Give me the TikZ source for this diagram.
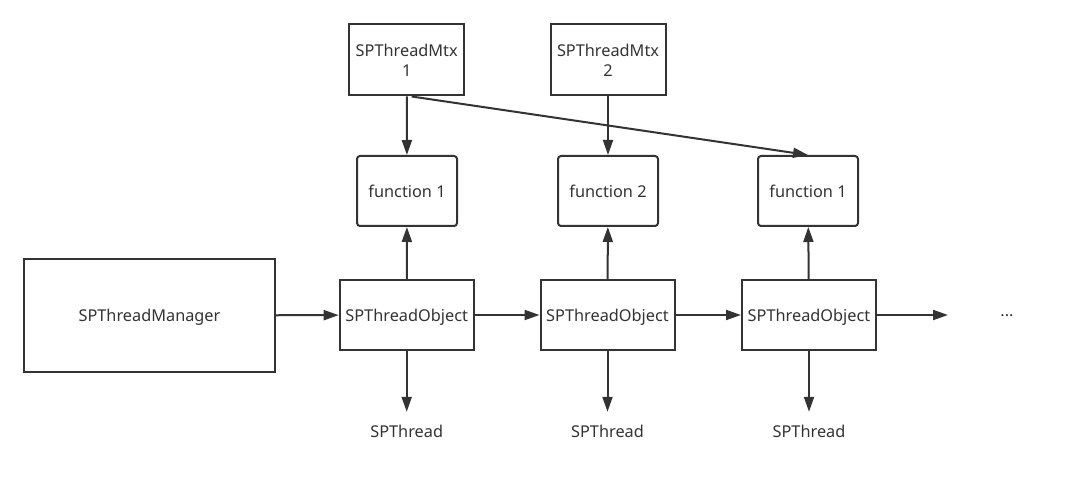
\documentclass[tikz,border=0pt]{standalone}
\usepackage{fontspec}
\setmainfont{Noto Sans}
\usetikzlibrary{arrows.meta}
\definecolor{ink}{HTML}{333333}

\begin{document}
\begin{tikzpicture}[x=1pt,y=-1pt,line width=2pt,ink,
  font=\fontsize{16.3}{20}\selectfont,
  every node/.style={text depth=0pt},
  mgrbox/.style={draw,minimum width=251pt,minimum height=113pt,inner sep=0pt},
  objbox/.style={draw,minimum width=134pt,minimum height=70pt,inner sep=0pt},
  funcbox/.style={draw,rounded corners=3pt,minimum width=100pt,minimum height=70pt,inner sep=0pt},
  mtxbox/.style={draw,minimum width=115pt,minimum height=71pt,inner sep=0pt,align=center},
  thrlbl/.style={inner xsep=2pt,inner ysep=12pt},
  arr/.style={-{Triangle[length=15pt,width=10pt]}}]
  \useasboundingbox (0,0) rectangle (1092,478);

  \node[mgrbox] (mgr) at (149.5,315.5) {SPThreadManager};

  % thread objects with their SPThread labels
  \foreach \i/\x in {1/406.7,2/607.5,3/809}{
    \node[objbox] (obj\i) at (\x,315) {SPThreadObject};
    \node[thrlbl] (thr\i) at (\x,431) {SPThread};
    \draw[arr] (obj\i) -- (thr\i);}

  \node[funcbox] (fn1) at (407,191) {function 1};
  \node[funcbox] (fn2) at (608,191) {function 2};
  \node[funcbox] (fn3) at (808,191) {function 1};

  \node[mtxbox] (mtx1) at (406.7,60) {SPThreadMtx\\1};
  \node[mtxbox] (mtx2) at (608,60) {SPThreadMtx\\2};

  \node (more) at (1007,316) {...};
  \coordinate (tail) at (948,315);

  \foreach \i in {1,2,3}
    \draw[arr] (obj\i) -- (fn\i);
  \draw[arr] (mgr) -- (obj1);
  \draw[arr] (obj1) -- (obj2);
  \draw[arr] (obj2) -- (obj3);
  \draw[arr] (obj3) -- (tail);
  \draw[arr] (mtx1) -- (fn1);
  \draw[arr] (mtx2) -- (fn2);
  \draw[arr] ([xshift=5pt]mtx1.south) -- (fn3.north);
\end{tikzpicture}
\end{document}
